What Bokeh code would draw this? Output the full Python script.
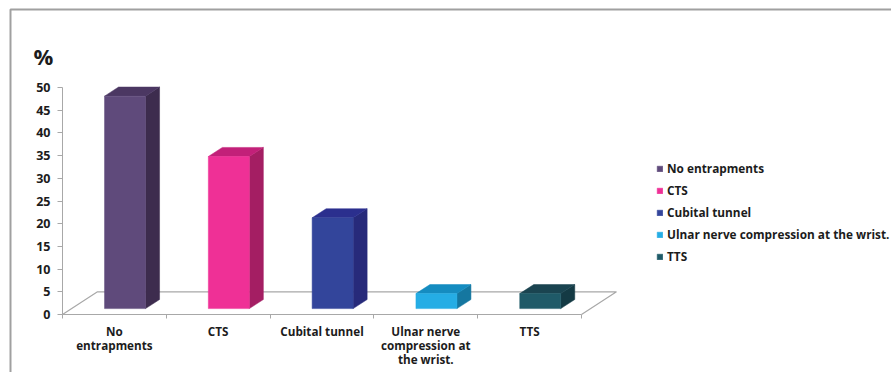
from bokeh.embed import file_html
from bokeh.resources import INLINE
from bokeh.plotting import figure
from bokeh.models import (BoxAnnotation, FixedTicker, Label, Legend, LegendItem,
                          LinearAxis, Range1d)

# Prevalence of each entrapment finding, in percent
categories = ["No entrapments", "CTS", "Cubital tunnel",
              "Ulnar nerve compression at the wrist.", "TTS"]
axis_labels = ["No\nentrapments", "CTS", "Cubital tunnel",
               "Ulnar nerve\ncompression at\nthe wrist.", "TTS"]
values = [46.8, 33.5, 20.0, 3.3, 3.3]
y_ticks = [0, 5, 10, 15, 20, 25, 30, 35, 40, 45, 50]

front_colors = ["#5f4a7b", "#ef3096", "#33459b", "#25ade5", "#1f5a68"]
side_colors = ["#3d2c4e", "#a41e63", "#272a7a", "#1577a0", "#143a44"]
top_colors = ["#4b3762", "#c22079", "#2b2f8e", "#158cc0", "#1a4450"]

FONT = "Open Sans"
TEXT = "#1c1c1c"
GRID = "#a8a8a8"

# Pseudo-3D proportions, in data units
FLOOR_DX, FLOOR_DY = 0.337, 5.0
BAR_X0, BAR_Y0 = 0.405, 1.3
BAR_W = 0.395
SIDE_DX, SIDE_DY = 0.135, 2.0

# The plot area fills the page; the ranges put the axes' origin inside it
p = figure(width=891, height=372, output_backend="svg", toolbar_location=None,
           x_range=Range1d(-0.5973, 7.9865), y_range=Range1d(-12.775, 69.163),
           x_axis_location=None, y_axis_location=None,
           min_border_left=0, min_border_right=0, min_border_top=0, min_border_bottom=0)
p.grid.visible = False
p.outline_line_color = None
p.background_fill_color = "white"

# Value axis
y_axis = LinearAxis(ticker=FixedTicker(ticks=y_ticks), bounds=(0, 50), fixed_location=0)
y_axis.axis_line_color = GRID
y_axis.major_tick_line_color = GRID
y_axis.minor_tick_line_color = None
y_axis.major_tick_in = 0
y_axis.major_tick_out = 5
y_axis.major_label_standoff = 7
y_axis.major_label_text_font = FONT
y_axis.major_label_text_font_style = "bold"
y_axis.major_label_text_font_size = "12.5px"
y_axis.major_label_text_color = TEXT
p.add_layout(y_axis, "left")

# Category axis: labels sit mid-category, tick marks on the boundaries
n = len(categories)
centers = [i + 0.5 for i in range(n)]
x_axis = LinearAxis(ticker=FixedTicker(ticks=centers, minor_ticks=list(range(n + 1))),
                    bounds=(0, n), fixed_location=0)
x_axis.major_label_overrides = {c: t for c, t in zip(centers, axis_labels)}
x_axis.axis_line_color = GRID
x_axis.major_tick_line_color = None
x_axis.major_tick_in = 0
x_axis.major_tick_out = 0
x_axis.minor_tick_line_color = GRID
x_axis.minor_tick_in = 0
x_axis.minor_tick_out = 4
x_axis.major_label_standoff = 4
x_axis.major_label_text_font = FONT
x_axis.major_label_text_font_style = "bold"
x_axis.major_label_text_font_size = "11.7px"
x_axis.major_label_text_line_height = 0.9
x_axis.major_label_text_color = TEXT
p.add_layout(x_axis, "below")

# Floor of the 3D box
p.line([0, FLOOR_DX, n + FLOOR_DX, n], [0, FLOOR_DY, FLOOR_DY, 0], line_color=GRID, line_width=1.2)

# Bars: front face plus side and top faces
items = []
for i, (name, v) in enumerate(zip(categories, values)):
    l = i + BAR_X0
    r = l + BAR_W
    b = BAR_Y0
    t = b + v
    p.patch([r, r + SIDE_DX, r + SIDE_DX, r], [b, b + SIDE_DY, t + SIDE_DY, t],
            fill_color=side_colors[i], line_color=side_colors[i], line_width=0.5)
    p.patch([l, l + SIDE_DX, r + SIDE_DX, r], [t, t + SIDE_DY, t + SIDE_DY, t],
            fill_color=top_colors[i], line_color=top_colors[i], line_width=0.5)
    front = p.quad(left=l, right=r, bottom=b, top=t,
                   fill_color=front_colors[i], line_color=front_colors[i], line_width=0.5)
    items.append(LegendItem(label=name, renderers=[front]))

legend = Legend(items=items, location=(656, 108), orientation="vertical",
                border_line_color=None, background_fill_alpha=0,
                glyph_width=7, glyph_height=7, label_standoff=4, spacing=6,
                padding=0, margin=0, label_height=15,
                label_text_font=FONT, label_text_font_style="bold",
                label_text_font_size="11.8px", label_text_color=TEXT)
p.add_layout(legend, "center")

# Unit marker above the value axis
p.add_layout(Label(x=33, y=302, x_units="screen", y_units="screen", text="%",
                   text_font=FONT, text_font_style="bold", text_font_size="22px",
                   text_color=TEXT))

# Panel border around the whole chart
p.add_layout(BoxAnnotation(left=10, right=900, top=363, bottom=-10,
                           left_units="screen", right_units="screen",
                           top_units="screen", bottom_units="screen",
                           fill_alpha=0, line_color="#a0a0a0", line_alpha=1, line_width=2))

open("out.html", "w").write(file_html(p, INLINE))
